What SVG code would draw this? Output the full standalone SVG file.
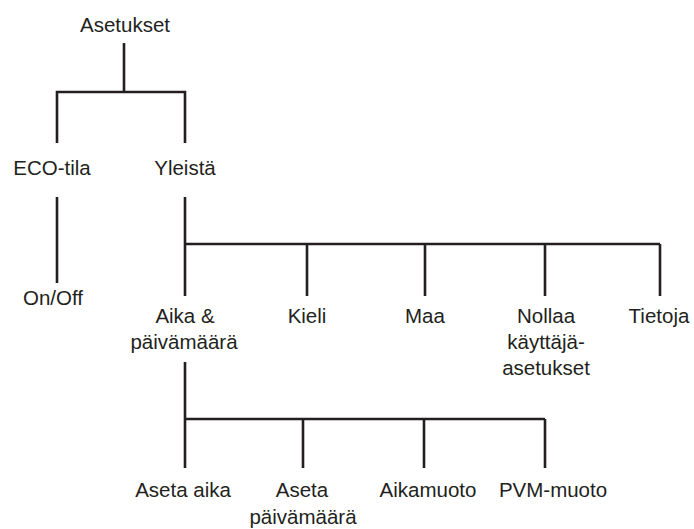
<svg xmlns="http://www.w3.org/2000/svg" width="694" height="529" viewBox="0 0 694 529">
<style>
.t{font-family:"Liberation Sans",Arial,sans-serif;font-size:20.5px;fill:#231f20;text-anchor:middle}
.c{stroke:#231f20;stroke-width:2.6;fill:none;stroke-linecap:butt}
</style>
<rect width="694" height="529" fill="#ffffff"/>
<g id="connectors" class="c">
<path d="M124,43V92M57,143V92H185V143"/>
<path d="M57,197V283"/>
<path d="M185,197V296M185,244H660M307,244V296M425,244V296M545,244V296M660,244V296"/>
<path d="M185,362V468M185,419H545M303,419V468M424,419V468M545,419V468"/>
</g>
<g id="n-asetukset"><text class="t" x="125" y="32">Asetukset</text></g>
<g id="n-eco"><text class="t" x="52" y="175">ECO-tila</text></g>
<g id="n-yleista"><text class="t" x="185" y="175">Yleistä</text></g>
<g id="n-onoff"><text class="t" x="53" y="305">On/Off</text></g>
<g id="n-aika"><text class="t" x="185" y="323">Aika &amp;</text><text class="t" x="184" y="349">päivämäärä</text></g>
<g id="n-kieli"><text class="t" x="307" y="323">Kieli</text></g>
<g id="n-maa"><text class="t" x="425" y="323">Maa</text></g>
<g id="n-nollaa"><text class="t" x="546" y="323">Nollaa</text><text class="t" x="546" y="349">käyttäjä-</text><text class="t" x="546" y="375">asetukset</text></g>
<g id="n-tietoja"><text class="t" x="659" y="323">Tietoja</text></g>
<g id="n-asetaaika"><text class="t" x="183" y="497">Aseta aika</text></g>
<g id="n-asetapvm"><text class="t" x="302" y="497">Aseta</text><text class="t" x="303" y="524">päivämäärä</text></g>
<g id="n-aikamuoto"><text class="t" x="428" y="497">Aikamuoto</text></g>
<g id="n-pvmmuoto"><text class="t" x="553" y="497">PVM-muoto</text></g>
</svg>
